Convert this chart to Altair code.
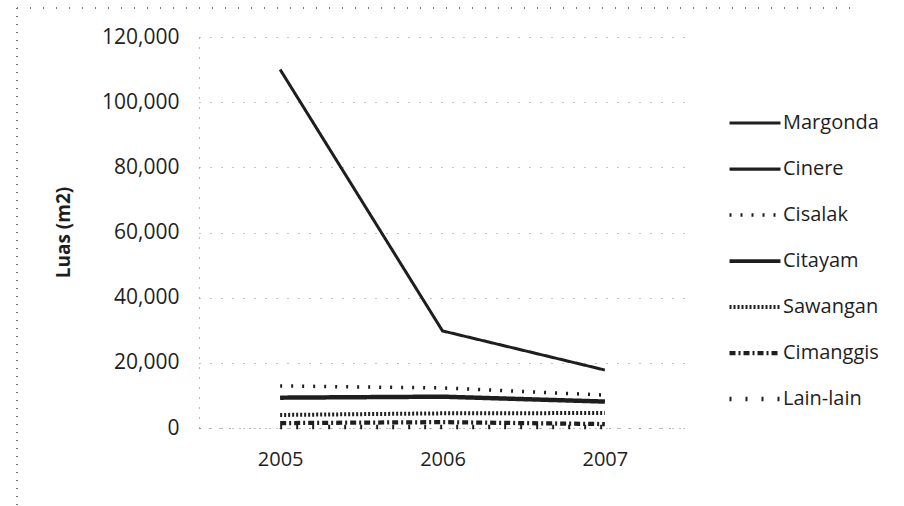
import altair as alt
import pandas as pd

# Luas lahan per lokasi, 2005-2007 (m2)
years = ["2005", "2006", "2007"]
locations = ["Margonda", "Cinere", "Cisalak", "Citayam", "Sawangan", "Cimanggis", "Lain-lain"]
margonda = [110000, 29800, 17800]
cinere = [9500, 9800, 8300]
cisalak = [12900, 12300, 10100]
citayam = [9200, 9500, 8000]
sawangan = [4000, 4500, 4600]
cimanggis = [1500, 1800, 1200]
lain_lain = [300, 300, 300]

series = [margonda, cinere, cisalak, citayam, sawangan, cimanggis, lain_lain]
rows = []
for name, vals in zip(locations, series):
    for yr, v in zip(years, vals):
        rows.append({"Tahun": yr, "Lokasi": name, "Luas": v})
df = pd.DataFrame(rows)

dashes = [[1, 0], [1, 0], [2, 9], [1, 0], [2, 2], [6, 3, 2, 3], [2, 14]]
widths = [3, 4.5, 2, 3.5, 1.6, 1.8, 2]

FONT = "Open Sans"
INK = "#1e1e1e"

legend_style = dict(
    title=None, orient="none", legendX=528, legendY=76,
    symbolType="stroke", symbolSize=2600, symbolStrokeColor=INK,
    labelFont=FONT, labelFontSize=20, labelColor=INK, labelOffset=0,
    rowPadding=26, clipHeight=20, padding=0,
)

lines = alt.Chart(df).mark_line(color=INK, strokeCap="butt").encode(
    x=alt.X("Tahun:N", title=None, sort=years,
            scale=alt.Scale(paddingInner=1, paddingOuter=0.5),
            axis=alt.Axis(labelAngle=0, labelFontSize=20, labelFont=FONT, labelColor=INK,
                          labelPadding=21, domain=True, domainColor="#777",
                          domainDash=[1, 9], ticks=False, grid=False)),
    y=alt.Y("Luas:Q", title="Luas (m2)",
            scale=alt.Scale(domain=[0, 120000], nice=False),
            axis=alt.Axis(values=list(range(0, 120001, 20000)), format=",d",
                          labelFontSize=21, labelFont=FONT, labelColor=INK, labelPadding=20,
                          ticks=False, domain=True, domainColor="#777", domainDash=[1, 9],
                          grid=True, gridColor="#888", gridDash=[1, 10], gridWidth=1,
                          titleFont=FONT, titleFontSize=19, titleFontWeight="bold",
                          titleColor=INK, titleX=-136, titleY=195, titleAngle=270,
                          titleAlign="center", titleBaseline="middle")),
    strokeDash=alt.StrokeDash("Lokasi:N", sort=locations,
                              scale=alt.Scale(domain=locations, range=dashes),
                              legend=alt.Legend(**legend_style)),
    strokeWidth=alt.StrokeWidth("Lokasi:N", sort=locations,
                                scale=alt.Scale(domain=locations, range=widths),
                                legend=alt.Legend(**legend_style)),
    detail="Lokasi:N",
)

# dotted outer frame of the chart area
frame = alt.Chart(df).mark_rule(color="#777", strokeDash=[1, 7], strokeWidth=1).encode(
    x=alt.value(-182), y=alt.value(-29), y2=alt.value(470)
) + alt.Chart(df).mark_rule(color="#777", strokeDash=[1, 12], strokeWidth=1).encode(
    x=alt.value(-182), x2=alt.value(660), y=alt.value(-29)
)

chart = (lines + frame).properties(
    width=487, height=391,
    background="white",
    autosize=alt.AutoSizeParams(type="none"),
    padding={"left": 199, "top": 37, "right": 218, "bottom": 78},
).configure_view(stroke=None)

chart.save("out.html", embed_options={"renderer": "svg", "actions": False})
